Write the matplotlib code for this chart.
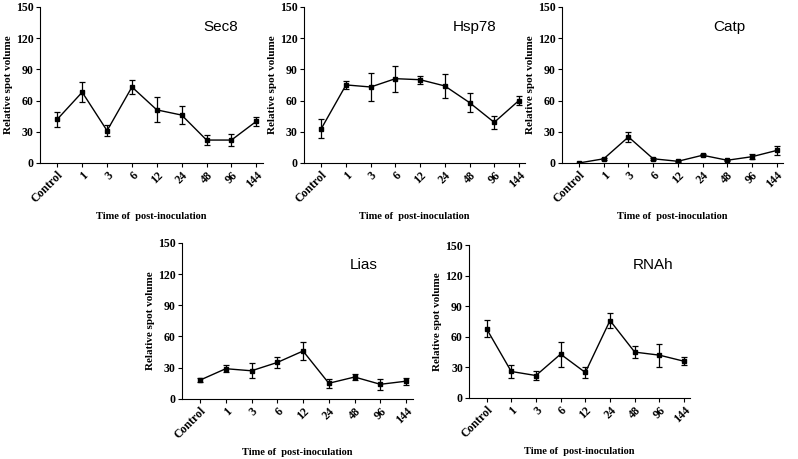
import matplotlib.pyplot as plt
import numpy as np

times = ["Control", "1", "3", "6", "12", "24", "48", "96", "144"]

sec8 = [42, 68, 31, 73, 51, 46, 22, 22, 40]
sec8_err = [7, 9.5, 5, 6.5, 12, 9, 5, 6, 4.3]

hsp78 = [33, 75, 73, 81, 80, 74, 58, 39, 60]
hsp78_err = [9.5, 4, 13, 12.5, 4, 11.5, 9.5, 6, 4.6]

catp = [0, 4, 25, 4, 1.6, 7.4, 2.6, 6, 12]
catp_err = [0.3, 1, 4.7, 1, 0.5, 1, 0.5, 2.6, 4]

lias = [18, 29, 27, 35, 46, 15, 21, 14, 17]
lias_err = [2, 3.5, 7, 5, 8.5, 4.5, 3, 5.3, 3.5]

rnah = [68, 26, 22, 43, 25, 76, 45, 42, 36]
rnah_err = [8.5, 6.5, 4.4, 12.4, 5.2, 7.8, 5.7, 11.3, 3.7]

panels = [
    ("Sec8", sec8, sec8_err, [0.050, 0.645, 0.279, 0.340], 0.81, 0.87),
    ("Hsp78", hsp78, hsp78_err, [0.381, 0.645, 0.277, 0.340], 0.77, 0.87),
    ("Catp", catp, catp_err, [0.704, 0.645, 0.277, 0.340], 0.76, 0.87),
    ("Lias", lias, lias_err, [0.228, 0.131, 0.289, 0.340], 0.79, 0.86),
    ("RNAh", rnah, rnah_err, [0.588, 0.133, 0.277, 0.333], 0.83, 0.87),
]

serif = "Liberation Serif"
fig = plt.figure(figsize=(7.98, 4.59), dpi=100)

for name, y, err, pos, tx, ty in panels:
    ax = fig.add_axes(pos)
    x = np.arange(len(times))
    ax.errorbar(x, y, yerr=err, color="black", lw=1, marker="s", ms=2.5,
                capsize=2.5, elinewidth=0.9, capthick=0.9)
    ax.set_xlim(-0.7, 8.25)
    ax.set_ylim(0, 150)
    ax.set_yticks([0, 30, 60, 90, 120, 150])
    ax.set_xticks(x)
    ax.set_xticklabels(times, rotation=45, ha="right", rotation_mode="anchor")
    for lab in ax.get_xticklabels() + ax.get_yticklabels():
        lab.set_fontfamily(serif)
        lab.set_fontweight("bold")
        lab.set_fontsize(8.5)
    ax.spines["top"].set_visible(False)
    ax.spines["right"].set_visible(False)
    ax.tick_params(length=3, width=0.8, pad=1.5)
    ax.set_ylabel("Relative spot volume", fontfamily=serif, fontweight="bold",
                  fontsize=8, labelpad=2)
    ax.set_xlabel("Time of  post-inoculation", fontfamily=serif, fontweight="bold",
                  fontsize=7.5, labelpad=5)
    ax.text(tx, ty, name, transform=ax.transAxes, ha="center", va="center",
            fontfamily="Liberation Sans", fontsize=11)

fig.savefig("out.png", dpi=100)
